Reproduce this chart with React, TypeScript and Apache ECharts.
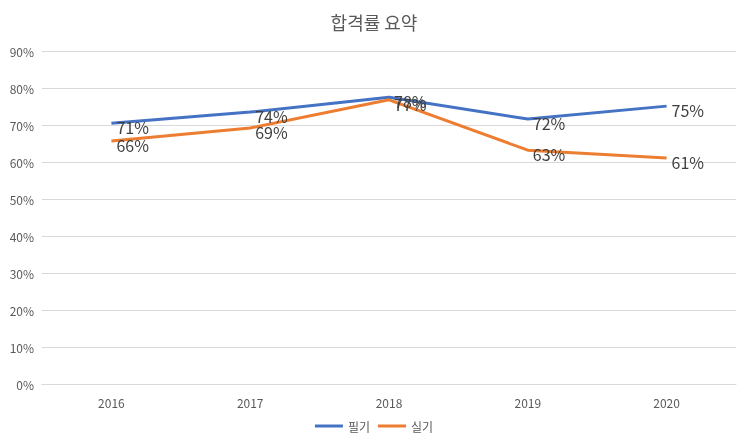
import { useEffect, useRef } from 'react'
import * as echarts from 'echarts'

const years = ['2016', '2017', '2018', '2019', '2020']
const written = [70.5, 73.5, 77.5, 71.6, 75.1]
const practical = [65.7, 69.2, 76.8, 63.2, 61.1]

export default function App() {
  const chartRef = useRef<HTMLDivElement>(null)

  useEffect(() => {
    if (!chartRef.current) return
    const chart = echarts.init(chartRef.current, null, { renderer: 'svg' })
    const font = '"Noto Sans CJK KR", "Noto Sans", sans-serif'
    const label = {
      show: true,
      position: 'right',
      offset: [0, 4],
      fontSize: 16,
      color: '#404040',
      fontFamily: font,
      formatter: (p: any) => `${Math.round(p.value)}%`
    }
    chart.setOption({
      animation: false,
      textStyle: { fontFamily: font },
      title: {
        text: '합격률 요약',
        left: 'center',
        top: 8,
        textStyle: { fontSize: 18, fontWeight: 'normal', color: '#595959' }
      },
      legend: {
        bottom: 4,
        itemWidth: 28,
        itemHeight: 3,
        icon: 'rect',
        textStyle: { fontSize: 12, color: '#595959' },
        data: ['필기', '실기']
      },
      grid: { left: 42, right: 12, top: 51, bottom: 57 },
      xAxis: {
        type: 'category',
        data: years,
        axisTick: { show: false },
        axisLine: { lineStyle: { color: '#d9d9d9' } },
        axisLabel: { color: '#595959', fontSize: 12, margin: 12 }
      },
      yAxis: {
        type: 'value',
        min: 0,
        max: 90,
        interval: 10,
        axisLabel: { color: '#595959', fontSize: 12, formatter: '{value}%' },
        splitLine: { lineStyle: { color: '#d9d9d9' } }
      },
      series: [
        {
          name: '필기',
          type: 'line',
          data: written,
          symbol: 'circle',
          symbolSize: 0,
          showSymbol: true,
          lineStyle: { width: 3, color: '#4472c4' },
          itemStyle: { color: '#4472c4' },
          label
        },
        {
          name: '실기',
          type: 'line',
          data: practical,
          symbol: 'circle',
          symbolSize: 0,
          showSymbol: true,
          lineStyle: { width: 3, color: '#ed7d31' },
          itemStyle: { color: '#ed7d31' },
          label
        }
      ]
    })
    return () => chart.dispose()
  }, [])

  return (
    <div
      ref={chartRef}
      style={{ position: 'fixed', left: 0, top: 0, width: '748px', height: '441px' }}
    />
  )
}
